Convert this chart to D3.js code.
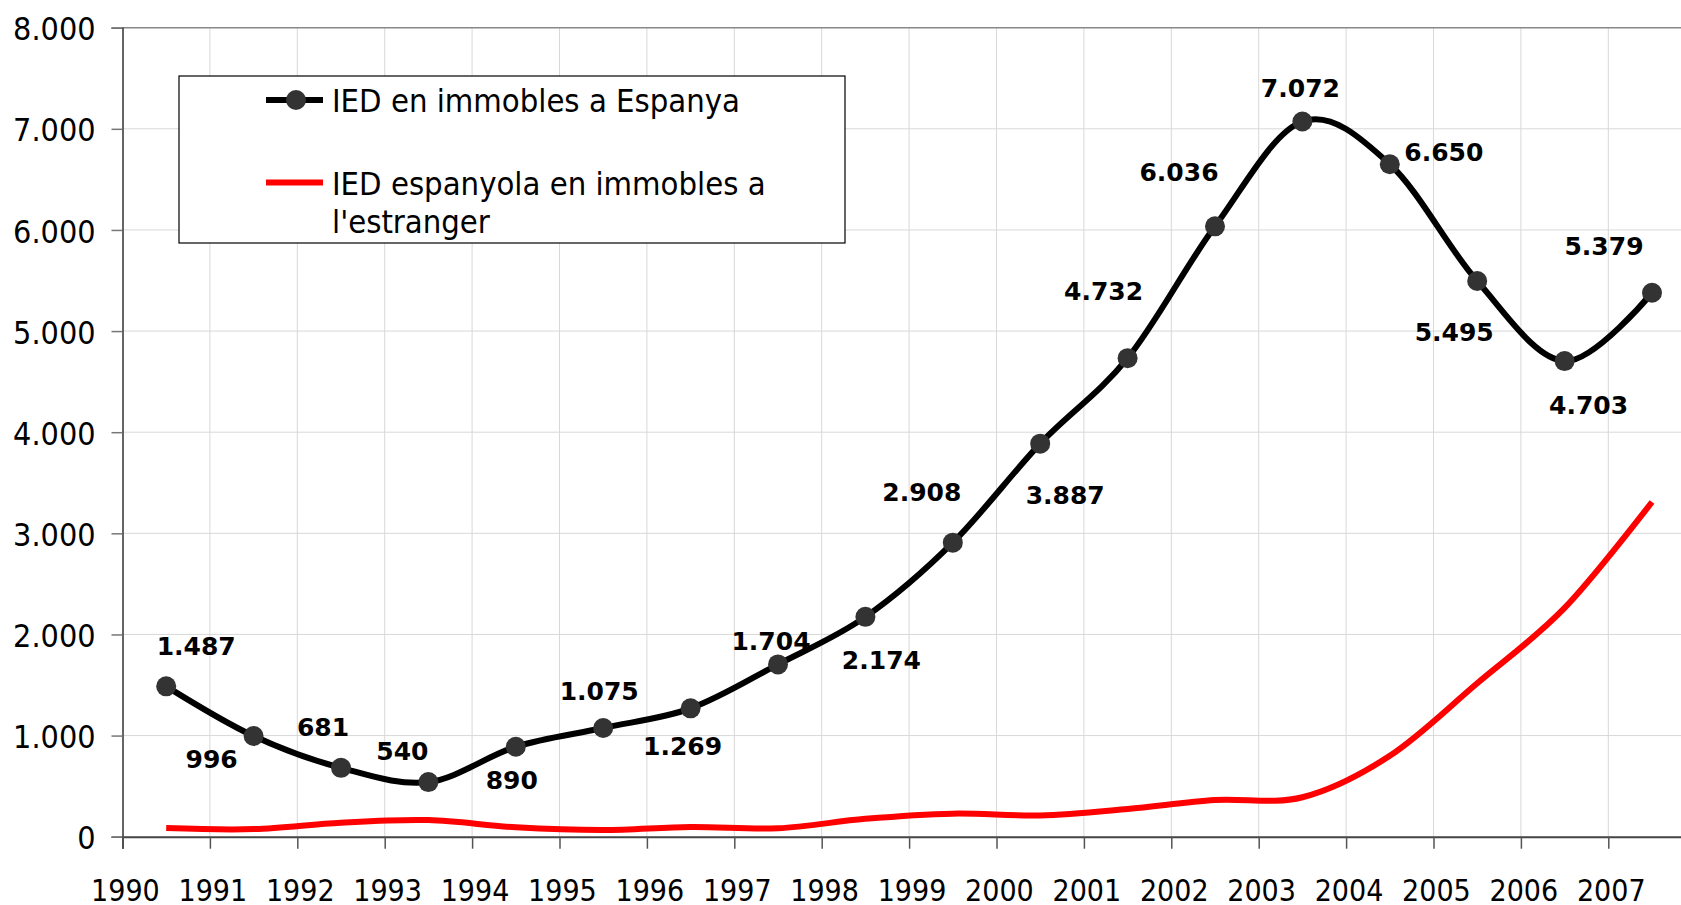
<!DOCTYPE html>
<html>
<head>
<meta charset="utf-8">
<script src="https://cdn.jsdelivr.net/npm/d3@7"></script>
<style>
  body { margin: 0; background: #fff; }
  svg { display: block; }
  .tick text, .legendText { font-family: "DejaVu Sans Condensed", "DejaVu Sans", sans-serif; font-stretch: condensed; fill: #000; }
  .valueLabel { font-family: "DejaVu Sans", Verdana, sans-serif; font-weight: bold; font-size: 25px; fill: #000; }
</style>
</head>
<body>
<div id="chart"></div>
<script>
// Data
var years = [1990, 1991, 1992, 1993, 1994, 1995, 1996, 1997, 1998, 1999,
             2000, 2001, 2002, 2003, 2004, 2005, 2006, 2007];
var iedSpain = [1487, 996, 681, 540, 890, 1075, 1269, 1704, 2174, 2908,
                3887, 4732, 6036, 7072, 6650, 5495, 4703, 5379];
var iedAbroad = [85, 75, 139, 164, 93, 66, 96, 83, 177, 228,
                 210, 274, 363, 390, 800, 1517, 2262, 3310];
var yTicks = [0, 1000, 2000, 3000, 4000, 5000, 6000, 7000, 8000];
var seriesNames = ["IED en immobles a Espanya", ["IED espanyola en immobles a", "l'estranger"]];

// where each value label sits relative to its point
var labelOffsets = [[30, -31], [-42, 32], [-18, -32], [-26, -22], [-4, 42], [-4, -28],
                    [-8, 47], [-7, -14], [16, 52], [-31, -42], [25, 60], [-24, -58],
                    [-36, -45], [-2, -25], [54, -3], [-23, 60], [24, 53], [-48, -38]];

var svgWidth = 1681;
var svgHeight = 905;

var margin = { top: 27.7, left: 122.5 };
var chartHeight = 809;
var yearWidth = 87.4;

var svg = d3.select("#chart")
  .append("svg")
  .attr("width", svgWidth)
  .attr("height", svgHeight);

var chartGroup = svg.append("g")
  .attr("transform", `translate(${margin.left}, ${margin.top})`);

var xScale = d3.scaleLinear()
  .domain([1990, 2008])
  .range([0, 18 * yearWidth]);

var yScale = d3.scaleLinear()
  .domain([0, 8000])
  .range([chartHeight, 0]);

var locale = d3.formatLocale({ decimal: ",", thousands: ".", grouping: [3], currency: ["", " €"] });
var fmt = locale.format(",");

// gridlines
chartGroup.append("g")
  .selectAll("line")
  .data(yTicks.slice(1, -1))
  .enter()
  .append("line")
  .attr("x1", 0)
  .attr("x2", svgWidth)
  .attr("y1", d => yScale(d))
  .attr("y2", d => yScale(d))
  .attr("stroke", "#d8d8d8")
  .attr("stroke-width", 1);

chartGroup.append("g")
  .selectAll("line")
  .data(years.slice(1))
  .enter()
  .append("line")
  .attr("x1", d => xScale(d))
  .attr("x2", d => xScale(d))
  .attr("y1", 0)
  .attr("y2", chartHeight)
  .attr("stroke", "#d8d8d8")
  .attr("stroke-width", 1);

// top border of plot area
chartGroup.append("line")
  .attr("x1", 0)
  .attr("x2", svgWidth)
  .attr("y1", yScale(8000))
  .attr("y2", yScale(8000))
  .attr("stroke", "#888")
  .attr("stroke-width", 1.5);

// axes
var leftAxis = d3.axisLeft(yScale)
  .tickValues(yTicks)
  .tickSize(11)
  .tickPadding(16)
  .tickFormat(fmt);

var bottomAxis = d3.axisBottom(xScale)
  .tickValues(years)
  .tickSize(12)
  .tickPadding(31)
  .tickFormat(d => d);

var yAxisG = chartGroup.append("g").call(leftAxis);
yAxisG.select(".domain").attr("stroke", "#333").attr("stroke-width", 1.5);
yAxisG.selectAll(".tick line").attr("stroke", "#777").attr("stroke-width", 1.5);
yAxisG.selectAll(".tick text").attr("font-size", 32).attr("dy", "0.38em");

var xAxisG = chartGroup.append("g")
  .attr("transform", `translate(0, ${chartHeight})`)
  .call(bottomAxis);
xAxisG.select(".domain").attr("stroke", "#444").attr("stroke-width", 2);
xAxisG.selectAll(".tick line").attr("stroke", "#555").attr("stroke-width", 1.5);
xAxisG.selectAll(".tick text").attr("font-size", 30).attr("dx", "0.08em");

// lines
var spainData = years.map((yr, i) => ({ year: yr, value: iedSpain[i], off: labelOffsets[i] }));
var abroadData = years.map((yr, i) => ({ year: yr, value: iedAbroad[i] }));

var line = d3.line()
  .x(d => xScale(d.year + 0.5))
  .y(d => yScale(d.value))
  .curve(d3.curveCardinal.tension(0));

chartGroup.append("path")
  .datum(abroadData)
  .attr("d", line)
  .attr("fill", "none")
  .attr("stroke", "#ff0000")
  .attr("stroke-width", 6);

chartGroup.append("path")
  .datum(spainData)
  .attr("d", line)
  .attr("fill", "none")
  .attr("stroke", "#000")
  .attr("stroke-width", 6);

chartGroup.selectAll("circle.pt")
  .data(spainData)
  .enter()
  .append("circle")
  .attr("class", "pt")
  .attr("cx", d => xScale(d.year + 0.5))
  .attr("cy", d => yScale(d.value))
  .attr("r", 10)
  .attr("fill", "#333");

chartGroup.selectAll("text.valueLabel")
  .data(spainData)
  .enter()
  .append("text")
  .attr("class", "valueLabel")
  .attr("text-anchor", "middle")
  .attr("x", d => xScale(d.year + 0.5) + d.off[0])
  .attr("y", d => yScale(d.value) + d.off[1])
  .text(d => fmt(d.value));

// legend
var legend = svg.append("g").attr("transform", "translate(179, 76)");
legend.append("rect")
  .attr("width", 666)
  .attr("height", 167)
  .attr("fill", "#fff")
  .attr("stroke", "#000")
  .attr("stroke-width", 1.2);

legend.append("line")
  .attr("x1", 87).attr("x2", 144)
  .attr("y1", 24).attr("y2", 24)
  .attr("stroke", "#000").attr("stroke-width", 6);
legend.append("circle")
  .attr("cx", 117).attr("cy", 24).attr("r", 10).attr("fill", "#333");
legend.append("text")
  .attr("class", "legendText")
  .attr("x", 153).attr("y", 35.5)
  .attr("font-size", 32.5)
  .text(seriesNames[0]);

legend.append("line")
  .attr("x1", 87).attr("x2", 144)
  .attr("y1", 106.5).attr("y2", 106.5)
  .attr("stroke", "#ff0000").attr("stroke-width", 6);
legend.append("text")
  .attr("class", "legendText")
  .attr("x", 153).attr("y", 119)
  .attr("font-size", 32.5)
  .selectAll("tspan")
  .data(seriesNames[1])
  .enter()
  .append("tspan")
  .attr("x", 153)
  .attr("dy", (d, i) => i === 0 ? 0 : 37.5)
  .text(d => d);
</script>
</body>
</html>
